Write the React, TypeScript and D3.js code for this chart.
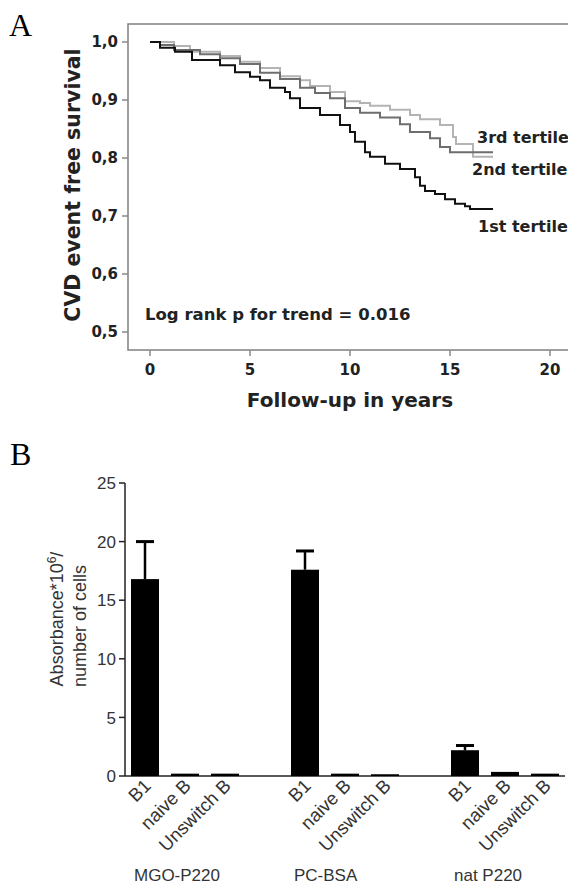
import React from "react";
import * as d3 from "d3";

// ---------- Panel A data (Kaplan-Meier) ----------
const tertile1Time = [0, 0.5, 1.25, 2.1, 3.5, 4.25, 5.0, 5.5, 6.0, 6.75, 7.0, 7.5, 8.5, 9.5, 10, 10.25, 10.75, 11, 11.75, 12.5, 13.25, 13.5, 13.75, 14.25, 14.75, 15.25, 15.75, 16, 17.15];
const tertile1Surv = [1.0, 0.99, 0.983, 0.969, 0.96, 0.948, 0.94, 0.934, 0.921, 0.914, 0.903, 0.886, 0.874, 0.857, 0.845, 0.828, 0.81, 0.802, 0.79, 0.781, 0.767, 0.752, 0.743, 0.738, 0.729, 0.721, 0.717, 0.712, 0.712];

const tertile2Time = [0, 0.5, 1.2, 2.5, 3.5, 4.5, 5.5, 6.5, 7.5, 8.25, 9, 9.75, 10.5, 11.5, 12.5, 13, 14, 14.5, 15, 17.15];
const tertile2Surv = [1.0, 0.995, 0.986, 0.979, 0.972, 0.962, 0.947, 0.936, 0.921, 0.912, 0.903, 0.886, 0.878, 0.87, 0.858, 0.845, 0.834, 0.819, 0.81, 0.81];

const tertile3Time = [0, 1.2, 2.0, 3.5, 4.5, 5.5, 6.5, 7.5, 8, 9, 9.75, 10.5, 11, 12, 13, 13.5, 14.5, 15.15, 15.3, 16.15, 17.15];
const tertile3Surv = [1.0, 0.993, 0.983, 0.976, 0.966, 0.955, 0.941, 0.934, 0.924, 0.914, 0.898, 0.895, 0.89, 0.883, 0.874, 0.867, 0.857, 0.836, 0.824, 0.802, 0.802];

const seriesNames = ["1st tertile", "2nd tertile", "3rd tertile"];
const yTicksA = [0.5, 0.6, 0.7, 0.8, 0.9, 1.0];
const xTicksA = [0, 5, 10, 15, 20];

// ---------- Panel B data ----------
const groups = ["MGO-P220", "PC-BSA", "nat P220"];
const cellTypes = ["B1", "naive B", "Unswitch B"];
const mgoValues = [16.8, 0.2, 0.2];
const mgoErrors = [3.2, 0, 0];
const pcValues = [17.6, 0.2, 0.15];
const pcErrors = [1.6, 0, 0];
const natValues = [2.2, 0.35, 0.2];
const natErrors = [0.4, 0, 0];
const yTicksB = [0, 5, 10, 15, 20, 25];

const fontA = "'DejaVu Sans', sans-serif";
const fontB = "'Liberation Sans', Arial, sans-serif";

export default function App() {
  // ---- Panel A scales ----
  const xA = d3.scaleLinear().domain([0, 20]).range([150, 550]);
  const yA = d3.scaleLinear().domain([0.5, 1.0]).range([332, 42]);
  const line = d3
    .line<[number, number]>()
    .x((d) => xA(d[0]))
    .y((d) => yA(d[1]))
    .curve(d3.curveStepAfter);

  const curves = [
    { name: seriesNames[0], t: tertile1Time, s: tertile1Surv, color: "#111111" },
    { name: seriesNames[1], t: tertile2Time, s: tertile2Surv, color: "#6e6e6e" },
    { name: seriesNames[2], t: tertile3Time, s: tertile3Surv, color: "#b4b4b4" },
  ];

  const axisGray = "#888888";

  // ---- Panel B scales ----
  const slots = d3.range(11);
  const xB = d3.scaleBand<number>().domain(slots).range([125, 565]).paddingInner(0.3).paddingOuter(0.15);
  const yB = d3.scaleLinear().domain([0, 25]).range([776, 483]);
  const groupData = [
    { name: groups[0], values: mgoValues, errors: mgoErrors },
    { name: groups[1], values: pcValues, errors: pcErrors },
    { name: groups[2], values: natValues, errors: natErrors },
  ];
  const bars = groupData.flatMap((g, gi) =>
    cellTypes.map((c, ci) => ({
      group: g.name,
      cell: c,
      value: g.values[ci],
      err: g.errors[ci],
      slot: gi * 4 + ci,
    }))
  );

  return (
    <svg
      width={568}
      height={884}
      style={{ position: "absolute", left: 0, top: 0, background: "#fff" }}
    >
      <rect x={0} y={0} width={568} height={884} fill="#fff" />
      {/* Panel letters */}
      <text x={9} y={36} fontFamily="'Liberation Serif', 'Times New Roman', serif" fontSize={32}>A</text>
      <text x={10} y={465} fontFamily="'Liberation Serif', 'Times New Roman', serif" fontSize={32}>B</text>

      {/* ---------------- Panel A ---------------- */}
      <rect x={128} y={24} width={480} height={326} fill="none" stroke={axisGray} strokeWidth={1.6} />
      {yTicksA.map((v) => (
        <g key={"ya" + v}>
          <line x1={122} x2={128} y1={yA(v)} y2={yA(v)} stroke={axisGray} strokeWidth={1.5} />
          <text
            x={118}
            y={yA(v)}
            dy="0.36em"
            textAnchor="end"
            fontFamily={fontA}
            fontWeight="bold"
            fontSize={15}
            fill="#222"
          >
            {v.toFixed(1).replace(".", ",")}
          </text>
        </g>
      ))}
      {xTicksA.map((v) => (
        <g key={"xa" + v}>
          <line x1={xA(v)} x2={xA(v)} y1={350} y2={356} stroke={axisGray} strokeWidth={1.5} />
          <text
            x={xA(v)}
            y={375}
            textAnchor="middle"
            fontFamily={fontA}
            fontWeight="bold"
            fontSize={15}
            fill="#222"
          >
            {v}
          </text>
        </g>
      ))}
      <text
        x={350}
        y={407}
        textAnchor="middle"
        fontFamily={fontA}
        fontWeight="bold"
        fontSize={20}
        fill="#222"
      >
        Follow-up in years
      </text>
      <text
        transform={`translate(80,${(48 + 322) / 2}) rotate(-90)`}
        textAnchor="middle"
        fontFamily={fontA}
        fontWeight="bold"
        fontSize={20.5}
        fill="#222"
      >
        CVD event free survival
      </text>
      {curves
        .slice()
        .reverse()
        .map((c) => (
          <path
            key={c.name}
            d={line(c.t.map((t, i) => [t, c.s[i]] as [number, number])) || ""}
            fill="none"
            stroke={c.color}
            strokeWidth={2}
          />
        ))}
      <text x={477} y={143} fontFamily={fontA} fontWeight="bold" fontSize={16} fill="#222">
        {seriesNames[2]}
      </text>
      <text x={472} y={175} fontFamily={fontA} fontWeight="bold" fontSize={16} fill="#222">
        {seriesNames[1]}
      </text>
      <text x={478} y={232} fontFamily={fontA} fontWeight="bold" fontSize={16} fill="#222">
        {seriesNames[0]}
      </text>
      <text x={145} y={320} fontFamily={fontA} fontWeight="bold" fontSize={16.5} fill="#222">
        Log rank p for trend = 0.016
      </text>

      {/* ---------------- Panel B ---------------- */}
      <line x1={125} x2={125} y1={yB(25)} y2={yB(0)} stroke="#222" strokeWidth={1.5} />
      <line x1={125} x2={565} y1={yB(0)} y2={yB(0)} stroke="#222" strokeWidth={1.5} />
      {yTicksB.map((v) => (
        <g key={"yb" + v}>
          <line x1={119} x2={125} y1={yB(v)} y2={yB(v)} stroke="#222" strokeWidth={1.5} />
          <text
            x={116}
            y={yB(v)}
            dy="0.36em"
            textAnchor="end"
            fontFamily={fontB}
            fontSize={17}
            fill="#333"
          >
            {v}
          </text>
        </g>
      ))}
      <text
        transform={`translate(63,619) rotate(-90)`}
        textAnchor="middle"
        fontFamily={fontB}
        fontSize={18}
        fill="#333"
      >
        Absorbance*10
        <tspan fontSize={12} dy={-7}>6</tspan>
        <tspan dy={7}>/</tspan>
      </text>
      <text
        transform={`translate(86,626) rotate(-90)`}
        textAnchor="middle"
        fontFamily={fontB}
        fontSize={18}
        fill="#333"
      >
        number of cells
      </text>
      {bars.map((b) => {
        const x0 = xB(b.slot) as number;
        const w = xB.bandwidth();
        const cx = x0 + w / 2;
        return (
          <g key={b.group + b.cell}>
            {b.err > 0 && (
              <g>
                <line x1={cx} x2={cx} y1={yB(b.value)} y2={yB(b.value + b.err)} stroke="#000" strokeWidth={2.5} />
                <line x1={cx - 9} x2={cx + 9} y1={yB(b.value + b.err)} y2={yB(b.value + b.err)} stroke="#000" strokeWidth={3} />
              </g>
            )}
            <rect x={x0} y={yB(b.value)} width={w} height={yB(0) - yB(b.value)} fill="#000" />
            <text
              transform={`translate(${cx + 7},787) rotate(-45)`}
              textAnchor="end"
              fontFamily={fontB}
              fontSize={18.5}
              fill="#333"
            >
              {b.cell}
            </text>
          </g>
        );
      })}
      {groupData.map((g, gi) => (
        <text
          key={g.name}
          x={(xB(gi * 4) as number) + 3}
          y={881}
          fontFamily={fontB}
          fontSize={17}
          fill="#333"
        >
          {g.name}
        </text>
      ))}
    </svg>
  );
}
